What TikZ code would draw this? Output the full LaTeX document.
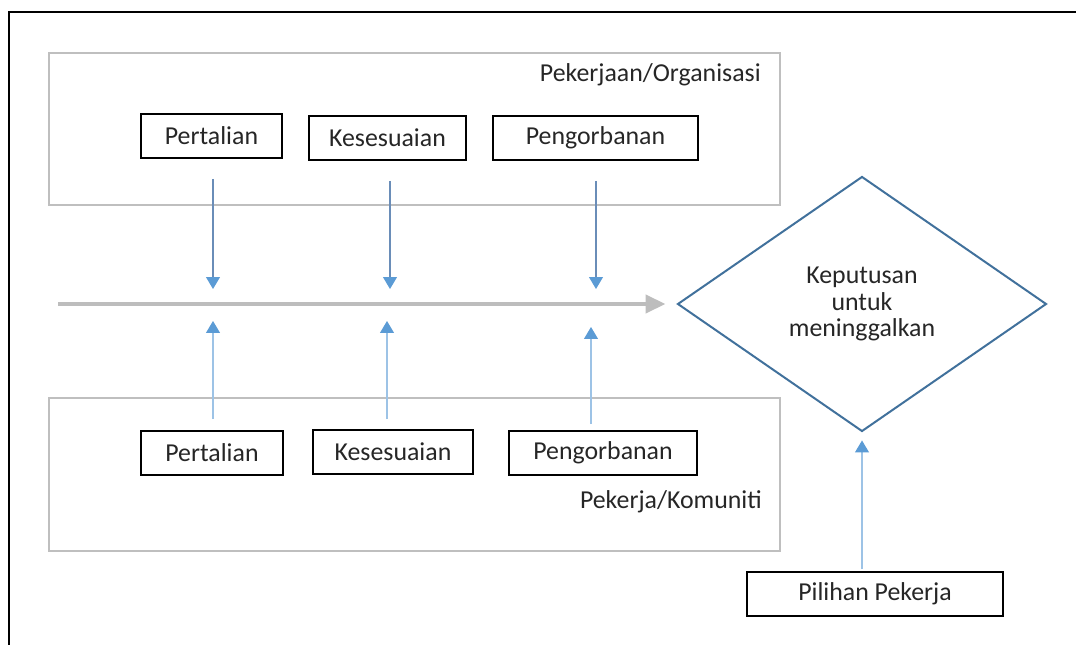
\documentclass[tikz,border=0pt]{standalone}
\usepackage{fontspec}
\setmainfont{Carlito}
\usetikzlibrary{shapes.geometric,arrows.meta}
\definecolor{realmgray}{HTML}{BFBFBF}
\definecolor{flowgray}{HTML}{BDBDBD}
\definecolor{tipblue}{HTML}{5B9BD5}
\definecolor{downblue}{HTML}{6A8DB8}
\definecolor{upblue}{HTML}{9DC3E6}
\definecolor{diamondblue}{HTML}{41719C}
\definecolor{inkgray}{HTML}{262626}

\tikzset{
    factor/.style={draw=black, line width=0.04cm, inner sep=0pt, minimum height=0.88cm,
        font=\fontsize{14.7}{15}\selectfont, text=inkgray},
    realm/.style={draw=realmgray, line width=0.04cm},
    realmlabel/.style={anchor=east, inner sep=0pt, font=\fontsize{14.7}{15}\selectfont, text=inkgray},
    feed/.style={line width=0.6pt, -{Triangle[width=0.28cm, length=0.24cm, color=tipblue]}},
}

\begin{document}
\begin{tikzpicture}[x=0.02cm, y=-0.02cm]
    \path[use as bounding box, clip] (0,0) rectangle (1076,645);
    \draw[line width=0.05cm] (9,12) rectangle (1100,690);

    % two realms
    \draw[realm] (49,53) rectangle (780,205);
    \draw[realm] (49,398) rectangle (780,551);
    \node (orgName) [realmlabel] at (761,75) {Pekerjaan/Organisasi};
    \node (comName) [realmlabel] at (762,502) {Pekerja/Komuniti};

    \node (orgPert) [factor, minimum width=2.82cm] at (211.5,136) {Pertalian};
    \node (orgKese) [factor, minimum width=3.14cm] at (387.5,138) {Kesesuaian};
    \node (orgPeng) [factor, minimum width=4.10cm] at (595.5,138) {Pengorbanan};

    \node (comPert) [factor, minimum width=2.84cm] at (212,453) {Pertalian};
    \node (comKese) [factor, minimum width=3.20cm] at (393,452) {Kesesuaian};
    \node (comPeng) [factor, minimum width=3.76cm] at (603,453) {Pengorbanan};

    \node (decide) [diamond, draw=diamondblue, line width=0.04cm, inner sep=0pt,
        minimum width=7.38cm, minimum height=5.1cm, align=center,
        font=\fontsize{14.7}{15}\selectfont, text=inkgray] at (862,304)
        {Keputusan\\untuk\\meninggalkan};
    \node (choice) [factor, minimum width=5.12cm] at (875,594) {Pilihan Pekerja};

    \coordinate (flowStart) at (58,304);
    \coordinate (tipA) at (213,289);
    \coordinate (tipB) at (390,289);
    \coordinate (tipC) at (596,289);
    \coordinate (upA) at (213,321);
    \coordinate (upB) at (387,321);
    \coordinate (upC) at (591,327);

    \draw[flowgray, line width=0.08cm, shorten >=0.22cm,
        -{Triangle[width=0.36cm, length=0.4cm]}] (flowStart) -- (decide.west);

    \draw[feed, downblue, shorten <=0.4cm] (orgPert.south -| tipA) -- (tipA);
    \draw[feed, downblue, shorten <=0.4cm] (orgKese.south -| tipB) -- (tipB);
    \draw[feed, downblue, shorten <=0.4cm] (orgPeng.south -| tipC) -- (tipC);

    \draw[feed, upblue, shorten <=0.22cm] (comPert.north -| upA) -- (upA);
    \draw[feed, upblue, shorten <=0.2cm] (comKese.north -| upB) -- (upB);
    \draw[feed, upblue, shorten <=0.12cm] (comPeng.north -| upC) -- (upC);

    \draw[feed, upblue, shorten <=0.04cm, shorten >=0.16cm] (choice.north -| decide.south) -- (decide.south);
\end{tikzpicture}
\end{document}
